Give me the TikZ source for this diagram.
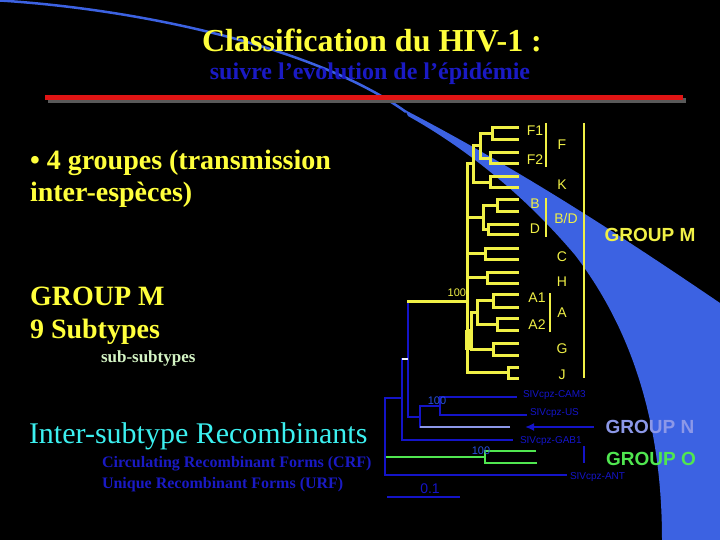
\documentclass[tikz,border=0pt]{standalone}
\usepackage{fontspec}
\setmainfont{Liberation Serif}
\newfontfamily\arialfont{Liberation Sans}
\usetikzlibrary{arrows.meta}
\definecolor{slideyellow}{HTML}{FFFF3C}
\definecolor{treeyellow}{HTML}{F0F046}
\definecolor{swooshblue}{HTML}{3C62E2}
\definecolor{deepblue}{HTML}{1A1AC4}
\definecolor{treeblue}{HTML}{1414C8}
\definecolor{midblue}{HTML}{2850E0}
\definecolor{nblue}{HTML}{8C98E8}
\definecolor{ogreen}{HTML}{50E650}
\definecolor{recyan}{HTML}{3CF0F0}
\definecolor{palegreen}{HTML}{D4F4C4}
\definecolor{rulered}{HTML}{E01414}
\tikzset{every node/.style={font=\fontsize{14}{16}\selectfont},
  txt/.style={inner sep=0pt,outer sep=0pt},
  lab/.style={txt,font=\arialfont\fontsize{14}{16}\selectfont,text=treeyellow},
  grp/.style={txt,font=\arialfont\bfseries\fontsize{19}{22}\selectfont},
  siv/.style={txt,anchor=west,font=\arialfont\fontsize{10}{12}\selectfont,text=treeblue},
  boot/.style={txt,font=\arialfont\fontsize{11}{13}\selectfont}}
\newcommand{\fTitle}{\fontsize{32}{37}\selectfont\bfseries}
\newcommand{\fSub}{\fontsize{24}{28}\selectfont\bfseries}
\newcommand{\fBig}{\fontsize{28}{32}\selectfont\bfseries}
\newcommand{\fRec}{\fontsize{30}{34}\selectfont\mdseries}
\newcommand{\fSmall}{\fontsize{17}{20}\selectfont\bfseries}
\newcommand{\fForm}{\fontsize{16}{19}\selectfont\bfseries}

\begin{document}
\begin{tikzpicture}[x=1pt,y=-1pt,
    ybr/.style={draw=treeyellow,line width=3pt},
    bbr/.style={draw=treeblue,line width=2.6pt},
    nbr/.style={draw=nblue,line width=2.6pt},
    gbr/.style={draw=ogreen,line width=2.6pt},
    ybar/.style={draw=treeyellow,line width=1.1pt},
    arr/.style={bbr,-{Latex[length=9pt,width=8pt]}}]
  \path[use as bounding box] (0,0) rectangle (720,540);
  \fill[black] (0,0) rectangle (720,540);

  % Swoosh behind everything
  \fill[swooshblue] (405,110) .. controls (520,170) and (620,235) .. (720,303)
    -- (720,540) -- (662,540) .. controls (662,440) and (640,340) .. (575,255)
    .. controls (520,190) and (460,145) .. (408,116) -- cycle;
  \draw[swooshblue,line width=2.5pt] (0,0.5) .. controls (150,10) and (320,50) .. (406,112);

  % Title block
  \node[txt,text=slideyellow] (title) at (372,40) {\fTitle Classification du HIV-1 :};
  \node[txt,text=deepblue] (subtitle) at (370,74) {\fSub suivre l’evolution de l’épidémie};
  \fill[black!65] (48,98) rectangle (686,103);
  \fill[rulered] (45,95) rectangle (683,100);

  % Left column
  \node[txt,anchor=base west,text=slideyellow] (groupes) at (30,170) {\fBig • 4 groupes (transmission};
  \node[txt,anchor=base west,text=slideyellow] (especes) at (30,202) {\fBig inter-espèces)};
  \node[txt,anchor=base west,text=slideyellow] (grpM) at (30,305) {\fBig GROUP M};
  \node[txt,anchor=base west,text=slideyellow] (subtypes) at (30,338) {\fBig 9 Subtypes};
  \node[txt,anchor=base west,text=palegreen] (subsub) at (101,362) {\fSmall sub-subtypes};
  \node[txt,anchor=base west,text=recyan] (recomb) at (29,443) {\fRec Inter-subtype Recombinants};
  \node[txt,anchor=base west,text=deepblue] (crf) at (102,467) {\fForm Circulating Recombinant Forms (CRF)};
  \node[txt,anchor=base west,text=deepblue] (urf) at (102,488) {\fForm Unique Recombinant Forms (URF)};

  % Group M: subtype cherries (name/x/top leaf/bottom leaf)
  \foreach \n/\x/\ya/\yb in {F1/492/128/140, F2/490/153/164, K/490/177/188,
      B/497/200/212, D/488/225/234, C/485/248/259, H/487/272/283,
      Aa/493/294/307, Ab/497/318/330, G/493/343/355, J/508/367/378}{
    \coordinate (c\n) at (\x,{(\ya+\yb)/2});
    \coordinate (l\n a) at (519,\ya);
    \coordinate (l\n b) at (519,\yb);
    \draw[ybr] (l\n a) -| (c\n);
    \draw[ybr] (l\n b) -| (c\n);
  }
  \coordinate (nF) at (480,146);
  \coordinate (nFK) at (473,164);
  \coordinate (nBD) at (483,218);
  \coordinate (nA) at (477,312);
  \coordinate (nAG) at (471,330);
  \coordinate (rM) at (467,301);

  % Outer part of the tree
  \coordinate (lCAM) at (517,397);
  \coordinate (lUS) at (527,415);
  \coordinate (cCU) at (440,406);
  \coordinate (lN) at (510,427);
  \coordinate (nN) at (420,417);
  \coordinate (nMN) at (408,359);
  \coordinate (lGAB) at (513,440);
  \coordinate (nMNG) at (402,398);
  \coordinate (lOa) at (536,451);
  \coordinate (lOb) at (537,463);
  \coordinate (cO) at (485,457);
  \coordinate (lANT) at (567,475);
  \coordinate (root) at (385,437);

  \draw[gbr] (lOa) -| (cO);
  \draw[gbr] (lOb) -| (cO);
  \draw[gbr] (cO) -| (root);
  \foreach \c/\p in {lCAM/cCU, lUS/cCU, cCU/nN, lN/nN, rM/nMN, nN/nMN,
      nMN/nMNG, lGAB/nMNG, nMNG/root, lANT/root}
    \draw[bbr] (\c) -| (\p);
  \draw[nbr] (lN) -- (lN -| nN);
  \draw[gbr] (cO) -- ([xshift=1.3pt]cO -| root);
  \draw[draw=white!85!nblue,line width=2.6pt] (nMN) -- (nMN -| nMNG);
  \foreach \c/\p in {cF1/nF, cF2/nF, nF/nFK, cK/nFK, cB/nBD, cD/nBD,
      cAa/nA, cAb/nA, nA/nAG, cG/nAG, nFK/rM, nBD/rM, cC/rM, cH/rM, nAG/rM, cJ/rM}
    \draw[ybr] (\c) -| (\p);
  \draw[ybr] (rM) -- ([xshift=-1.3pt]rM -| nMN);
  \draw[ybr,line width=5pt] (nAG -| rM) -- ++(0,20);

  % Bootstrap values
  \node[boot,anchor=east,text=treeyellow] (bsM) at (466,293) {100};
  \node[boot,text=midblue] (bsN) at (437,401) {100};
  \node[boot,text=midblue] (bsO) at (481,451) {100};

  % Subtype labels
  \node[lab] (tF1) at (535,131) {F1};
  \node[lab] (tF2) at (535,160) {F2};
  \node[lab] (tF) at (562,145) {F};
  \node[lab] (tK) at (562,185) {K};
  \node[lab] (tB) at (535,204) {B};
  \node[lab] (tD) at (535,229) {D};
  \node[lab] (tBD) at (566,218) {B/D};
  \node[lab] (tC) at (562,257) {C};
  \node[lab] (tH) at (562,282) {H};
  \node[lab] (tA1) at (537,298) {A1};
  \node[lab] (tA2) at (537,325) {A2};
  \node[lab] (tA) at (562,313) {A};
  \node[lab] (tG) at (562,349) {G};
  \node[lab] (tJ) at (562,375) {J};
  \draw[ybar] (546,123) -- (546,167);
  \draw[ybar] (546,198) -- (546,237);
  \draw[ybar] (550,293) -- (550,332);
  \draw[ybar] (584,123) -- (584,378);
  \draw[draw=treeblue,line width=1.1pt] (584,446) -- (584,463);

  % SIVcpz leaves and group names
  \node[siv] (sCAM) at (523,395) {SIVcpz-CAM3};
  \node[siv] (sUS) at (530,413) {SIVcpz-US};
  \node[siv] (sGAB) at (520,441) {SIVcpz-GAB1};
  \node[siv] (sANT) at (570,477) {SIVcpz-ANT};
  \node[grp,text=treeyellow] (gM) at (650,235) {GROUP M};
  \node[grp,text=nblue] (gN) at (650,427) {GROUP N};
  \node[grp,text=ogreen] (gO) at (651,459) {GROUP O};
  \draw[arr,shorten <=12pt,shorten >=15pt] (gN) -- (lN);

  % Scale bar
  \coordinate (sbL) at (387,497);
  \coordinate (sbR) at (460,497);
  \draw[bbr] (sbL) -- (sbR);
  \node[txt,font=\arialfont\fontsize{14}{16}\selectfont,text=treeblue] (sbT) at (430,489) {0.1};
\end{tikzpicture}
\end{document}
